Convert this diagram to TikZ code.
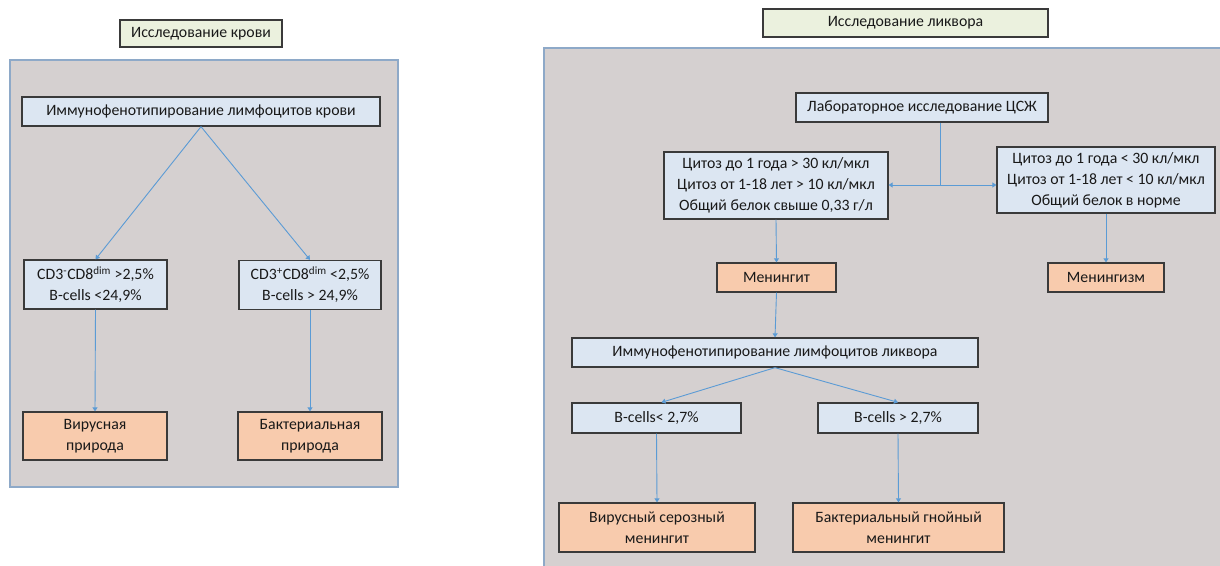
\documentclass[tikz,border=0pt]{standalone}
\usepackage{fontspec}
\setmainfont{Carlito}
\usetikzlibrary{arrows.meta}

\definecolor{panelgray}{HTML}{D5D0D0}
\definecolor{panelline}{HTML}{8EA9C8}
\definecolor{boxblue}{HTML}{DCE6F2}
\definecolor{boxorange}{HTML}{F8CBAD}
\definecolor{boxgreen}{HTML}{EBF1DE}
\definecolor{boxline}{HTML}{3A3A3A}
\definecolor{linkblue}{HTML}{5B9BD5}

\begin{document}
\begin{tikzpicture}[
    x=1pt, y=-1pt,
    every node/.style={font=\fontsize{15.8}{21}\selectfont, text=black!90, align=center, inner sep=2pt},
    panel/.style={fill=panelgray, draw=panelline, line width=1.5pt},
    heading/.style={draw=boxline, fill=boxgreen, line width=1.2pt},
    infobox/.style={draw=boxline, fill=boxblue, line width=1.3pt},
    result/.style={draw=boxline, fill=boxorange, line width=1.3pt},
    link/.style={draw=linkblue, line width=0.9pt},
    flow/.style={link, -{Triangle[width=5pt,length=4pt]}}
  ]
  \useasboundingbox (0,0) rectangle (1220,565);

  %--------------------------------------
  % 1) Blood panel (left)
  %--------------------------------------
  \node[heading, minimum width=162, minimum height=27] (titleB) at (201,33.5) {Исследование крови};
  \draw[panel] (10,60) rectangle (398,487);

  \node[infobox, minimum width=358, minimum height=29] (immB) at (201,111.5)
    {Иммунофенотипирование лимфоцитов крови};
  \node[infobox, minimum width=143, minimum height=49] (cdL) at (95.5,284.5)
    {CD3\textsuperscript{-}CD8\textsuperscript{dim} >2,5\%\\B-cells <24,9\%};
  \node[infobox, minimum width=142, minimum height=49] (cdR) at (310,285)
    {CD3\textsuperscript{+}CD8\textsuperscript{dim} <2,5\%\\B-cells > 24,9\%};
  \node[result, minimum width=144, minimum height=48] (virB) at (95,436)
    {Вирусная\\природа};
  \node[result, minimum width=144, minimum height=48] (bacB) at (310,436)
    {Бактериальная\\природа};

  % Connectors
  \draw[flow] (immB.south) -- (cdL.north);
  \draw[flow] (immB.south) -- (cdR.north);
  \draw[flow] (cdL.south) -- (virB.north);
  \draw[flow] (cdR.south) -- (bacB.north);

  %--------------------------------------
  % 2) Liquor panel (right)
  %--------------------------------------
  \node[heading, minimum width=285, minimum height=28] (titleL) at (905.5,23) {Исследование ликвора};
  \draw[panel] (544,48) rectangle (1230,575);

  \node[infobox, minimum width=252, minimum height=29] (lab) at (922,107.5)
    {Лабораторное исследование ЦСЖ};
  \node[infobox, minimum width=224, minimum height=67] (highC) at (776,185.5)
    {Цитоз до 1 года > 30 кл/мкл\\Цитоз от 1-18 лет > 10 кл/мкл\\Общий белок свыше 0,33 г/л};
  \node[infobox, minimum width=218, minimum height=66] (normC) at (1106,180)
    {Цитоз до 1 года < 30 кл/мкл\\Цитоз от 1-18 лет < 10 кл/мкл\\Общий белок в норме};
  \node[result, minimum width=119, minimum height=29] (mening) at (776.5,277.5) {Менингит};
  \node[result, minimum width=116, minimum height=29] (meningism) at (1106,277.5) {Менингизм};
  \node[infobox, minimum width=406, minimum height=29] (immL) at (775,352.5)
    {Иммунофенотипирование лимфоцитов ликвора};
  \node[infobox, minimum width=169, minimum height=30] (bLow) at (656.5,418) {B-cells< 2,7\%};
  \node[infobox, minimum width=160, minimum height=30] (bHigh) at (898,418) {B-cells > 2,7\%};
  \node[result, minimum width=196, minimum height=49] (virL) at (657,527.5)
    {Вирусный серозный\\менингит};
  \node[result, minimum width=211, minimum height=49] (bacL) at (898.5,527.5)
    {Бактериальный гнойный\\менингит};

  % Split below the lab box
  \coordinate (split) at (940,185);
  \draw[link] (lab.south -| split) -- (split);
  \draw[flow] (split) -- (split -| highC.east);
  \draw[flow] (split) -- (split -| normC.west);

  % Connectors
  \draw[flow] (highC.south) -- (mening.north);
  \draw[flow] (normC.south) -- (meningism.north);
  \draw[flow] (mening.south) -- (immL.north);
  \draw[flow] (immL.south) -- ([xshift=5pt]bLow.north);
  \draw[flow] (immL.south) -- (bHigh.north);
  \draw[flow] (bLow.south) -- (virL.north);
  \draw[flow] (bHigh.south) -- (bacL.north);

\end{tikzpicture}
\end{document}
